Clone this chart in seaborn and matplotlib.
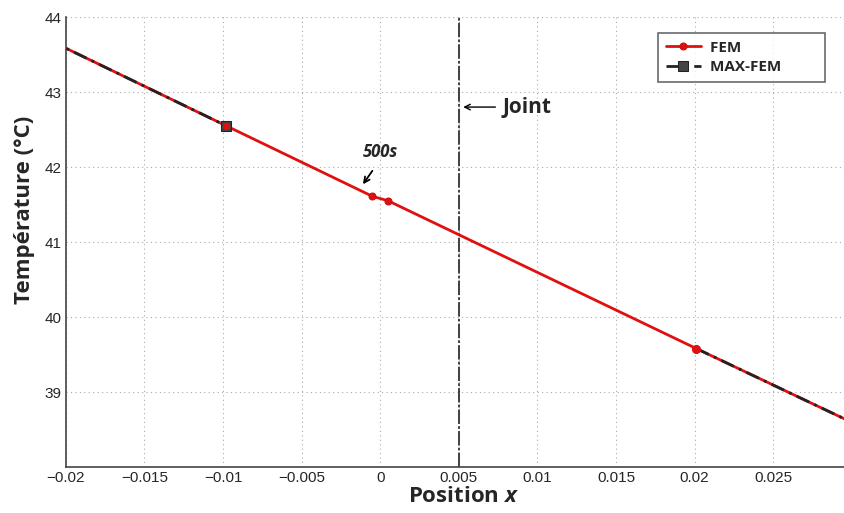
import numpy as np
import matplotlib
matplotlib.use("Agg")
import matplotlib.pyplot as plt
import seaborn as sns
import pandas as pd

# Data
fem_x = [-0.03, -0.0098, -0.0005, 0.0005, 0.0201, 0.04]
fem_y = [44.6, 42.55, 41.61, 41.55, 39.58, 37.6]
max_x1 = [-0.03, -0.0098]
max_y1 = [44.6, 42.55]
max_x2 = [0.0201, 0.04]
max_y2 = [39.58, 37.6]
joint_x = 0.005
xticks = [-0.02, -0.015, -0.01, -0.005, 0, 0.005, 0.01, 0.015, 0.02, 0.025]
xticklabels = ["\u22120.02", "\u22120.015", "\u22120.01", "\u22120.005", "0", "0.005", "0.01", "0.015", "0.02", "0.025"]
yticks = [39, 40, 41, 42, 43, 44]

sns.set_style("white")
plt.rcParams['font.family'] = ['Liberation Sans Narrow', 'Liberation Sans', 'DejaVu Sans']
plt.rcParams['mathtext.fontset'] = 'custom'
plt.rcParams['mathtext.bfit'] = 'Open Sans:bold:italic'

fig = plt.figure(figsize=(8.44, 5.13), dpi=100)
ax = fig.add_axes([0.078, 0.0897, 0.922, 0.877])

df_fem = pd.DataFrame({"x": fem_x, "y": fem_y})
df_m1 = pd.DataFrame({"x": max_x1, "y": max_y1})
df_m2 = pd.DataFrame({"x": max_x2, "y": max_y2})

sns.lineplot(data=df_fem, x="x", y="y", ax=ax, color="#e01010", lw=2.0, zorder=3,
             marker="o", markersize=5, markeredgecolor="#c01010", sort=False, label="FEM         ")
sns.lineplot(data=df_m1, x="x", y="y", ax=ax, color="#222222", lw=2.0, zorder=4,
             linestyle=(0, (5, 2, 1, 2)), sort=False, label="MAX-FEM         ",
             marker="s", markersize=7, markerfacecolor="#444444", markeredgecolor="#222222")
sns.lineplot(data=df_m2, x="x", y="y", ax=ax, color="#222222", lw=2.0, zorder=4,
             linestyle=(0, (5, 2, 1, 2)), sort=False, legend=False)
ax.plot([fem_x[1]], [fem_y[1]], marker="o", markersize=4, color="#e01010", zorder=5, ls="none")
ax.plot([fem_x[4]], [fem_y[4]], marker="o", markersize=5.5, color="#e01010", zorder=5, ls="none")

ax.axvline(joint_x, color="#333333", lw=1.3, linestyle=(0, (8, 1.2, 1.5, 1.2)), zorder=2)

ax.set_xlim(-0.02, 0.0295)
ax.set_ylim(38, 44)
ax.set_xticks(xticks)
ax.set_xticklabels(xticklabels)
ax.set_yticks(yticks)
ax.tick_params(axis="both", labelsize=11, length=4, direction="in", color="#333333", pad=3)
ax.grid(True, linestyle=(0, (1, 3)), color="#aaaaaa", lw=0.8)
for s in ["top", "right"]:
    ax.spines[s].set_visible(False)
for s in ["left", "bottom"]:
    ax.spines[s].set_color("#444444")
    ax.spines[s].set_linewidth(1.2)

ax.set_xlabel("Position $\\mathbfit{x}$", fontsize=16, fontweight="bold", family="Open Sans")
ax.xaxis.set_label_coords(0.5115, -0.043)
ax.set_ylabel("Température (°C)", fontsize=16, fontweight="bold", family="Open Sans")
ax.yaxis.set_label_coords(-0.04, 0.571)

ax.annotate("", xy=(0.0051, 42.8), xytext=(0.0075, 42.8),
            arrowprops=dict(arrowstyle="->", color="black", lw=1.0))
ax.text(0.0078, 42.8, "Joint", fontsize=15, fontweight="bold", family="Open Sans", va="center", ha="left")
ax.text(0.0, 42.2, "500s", fontsize=12, fontweight="bold", style="italic", family="Open Sans", ha="center", va="center")
ax.annotate("", xy=(-0.0012, 41.74), xytext=(-0.0004, 41.98),
            arrowprops=dict(arrowstyle="->", color="black", lw=1.3))

leg = ax.legend(loc="upper right", bbox_to_anchor=(0.9775, 0.9357), bbox_transform=fig.transFigure,
                frameon=True, fancybox=False, edgecolor="#444444", borderaxespad=0,
                prop={"family": "Open Sans", "weight": "bold", "size": 11}, handlelength=2.3,
                borderpad=0.5, labelspacing=0.35, handletextpad=0.6)
leg.get_frame().set_linewidth(1.2)

fig.savefig("out.png", dpi=100)
